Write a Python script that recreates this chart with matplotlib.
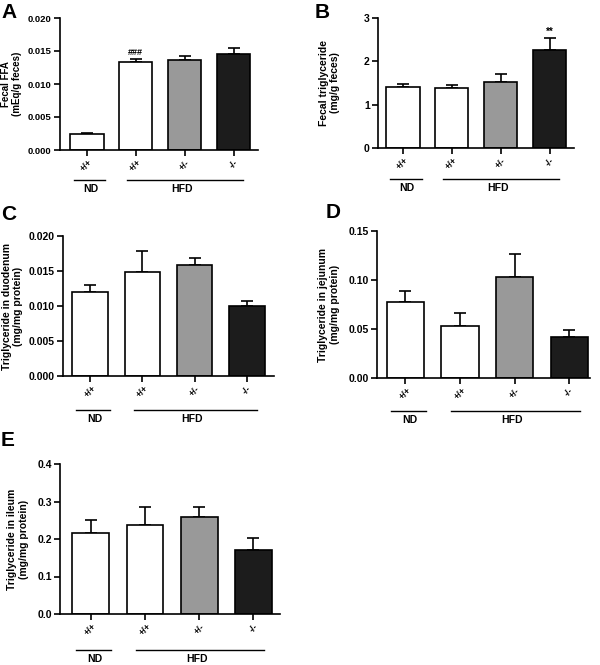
import numpy as np
import matplotlib.pyplot as plt
import matplotlib.transforms as mtrans

plt.rcParams['font.family'] = ['Liberation Sans', 'DejaVu Sans']
plt.rcParams['font.weight'] = 'bold'

# donnees
genotypes = ['+/+', '+/+', '+/-', '-/-']
bar_colors = ['white', 'white', '#999999', '#1c1c1c']

ffa_mean = [0.0025, 0.0133, 0.0136, 0.0145]
ffa_sem = [0.0001, 0.0005, 0.0007, 0.0010]

tg_fecal_mean = [1.40, 1.39, 1.53, 2.27]
tg_fecal_sem = [0.08, 0.06, 0.17, 0.27]

duod_mean = [0.0120, 0.0148, 0.0158, 0.0100]
duod_sem = [0.0010, 0.0030, 0.0011, 0.0007]

jej_mean = [0.078, 0.053, 0.103, 0.042]
jej_sem = [0.011, 0.013, 0.024, 0.007]

ile_mean = [0.215, 0.238, 0.260, 0.170]
ile_sem = [0.036, 0.047, 0.026, 0.033]

W, H = 600, 665
fig = plt.figure(figsize=(W/100, H/100), dpi=100)


def box(l, t, r, b):
    return [l/W, 1 - b/H, (r - l)/W, (b - t)/H]


def panel(rect, mean, sem, yticks, fmt, ylabel, letter, letter_xy,
          lpad, grp_off, xlim=(-0.55, 3.5), tfs=7.5, lfs=7.5):
    ax = fig.add_axes(box(*rect))
    x = np.arange(len(mean))
    ax.bar(x, mean, width=0.68, color=bar_colors, edgecolor='black',
           linewidth=1.2, zorder=2)
    ax.errorbar(x, mean, yerr=[np.zeros(len(sem)), sem], fmt='none',
                ecolor='black', elinewidth=1.2, capsize=4, capthick=1.2,
                zorder=1)
    ax.set_xlim(*xlim)
    ax.set_ylim(yticks[0], yticks[-1])
    ax.set_yticks(yticks)
    ax.set_yticklabels([fmt.format(v) for v in yticks], fontsize=tfs,
                       fontweight='bold')
    ax.set_xticks(x)
    ax.set_xticklabels(genotypes, rotation=45, fontsize=6.5,
                       fontweight='bold')
    ax.tick_params(axis='both', width=1.2, length=4, pad=2)
    for s in ['top', 'right']:
        ax.spines[s].set_visible(False)
    for s in ['left', 'bottom']:
        ax.spines[s].set_linewidth(1.2)
    ax.set_ylabel(ylabel, fontsize=lfs, fontweight='bold', labelpad=lpad)

    # lignes ND / HFD sous l'axe
    base = mtrans.blended_transform_factory(ax.transData, ax.transAxes)
    tl = base + mtrans.ScaledTranslation(0, -grp_off/100, fig.dpi_scale_trans)
    tt = base + mtrans.ScaledTranslation(0, -(grp_off + 4)/100,
                                         fig.dpi_scale_trans)
    ax.plot([-0.27, 0.38], [0, 0], color='black', lw=1, transform=tl,
            clip_on=False)
    ax.plot([0.83, 3.19], [0, 0], color='black', lw=1, transform=tl,
            clip_on=False)
    ax.text(0.08, 0, 'ND', transform=tt, ha='center', va='top',
            fontsize=7.5, fontweight='bold')
    ax.text(1.95, 0, 'HFD', transform=tt, ha='center', va='top',
            fontsize=7.5, fontweight='bold')

    fig.text(letter_xy[0]/W, 1 - letter_xy[1]/H, letter, fontsize=15,
             fontweight='bold', ha='left', va='top')
    return ax


axA = panel((60, 18, 258, 150), ffa_mean, ffa_sem,
            [0, 0.005, 0.010, 0.015, 0.020], '{:.3f}',
            'Fecal FFA\n(mEq/g feces)', 'A', (1, 3), 4, 30,
            tfs=6.8, lfs=7)
axA.text(1, 0.0147, '###', ha='center', va='center', fontsize=6.5)

axB = panel((378, 18, 574, 148), tg_fecal_mean, tg_fecal_sem,
            [0, 1, 2, 3], '{:d}',
            'Fecal triglyceride\n(mg/g feces)', 'B', (315, 3), 17, 31,
            xlim=(-0.51, 3.5))
axB.text(3, 2.68, '**', ha='center', va='center', fontsize=7)

panel((63, 236, 274, 376), duod_mean, duod_sem,
      [0, 0.005, 0.010, 0.015, 0.020], '{:.3f}',
      'Triglyceride in duodenum\n(mg/mg protein)', 'C', (1, 205), 4, 34,
      xlim=(-0.52, 3.52))

panel((377, 231, 590, 378), jej_mean, jej_sem,
      [0, 0.05, 0.10, 0.15], '{:.2f}',
      'Triglyceride in jejunum\n(mg/mg protein)', 'D', (326, 203), 6, 33,
      xlim=(-0.52, 3.38))

panel((60, 464, 280, 614), ile_mean, ile_sem,
      [0, 0.1, 0.2, 0.3, 0.4], '{:.1f}',
      'Triglyceride in ileum\n(mg/mg protein)', 'E', (1, 431), 6, 36,
      xlim=(-0.57, 3.49))

fig.savefig('out.png', dpi=100)
